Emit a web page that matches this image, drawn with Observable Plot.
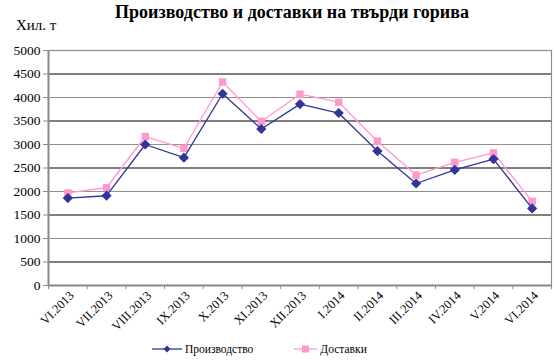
<!DOCTYPE html>
<html><head><meta charset="utf-8">
<script src="https://cdn.jsdelivr.net/npm/d3@7"></script>
<script src="https://cdn.jsdelivr.net/npm/@observablehq/plot@0.6"></script>
<style>
body{margin:0;background:#fff;font-family:"Liberation Serif","Times New Roman",serif;}
#wrap{position:relative;width:555px;height:363px;overflow:hidden;}
#wrap svg text{font-family:"Liberation Serif","Times New Roman",serif;font-size:12.5px;fill:#000;}
#wrap svg [aria-label*="y-axis"] text{font-size:13.5px;}
#title{position:absolute;left:0;width:584px;top:2px;text-align:center;font-weight:bold;font-size:18px;}
#unit{position:absolute;left:16px;top:17px;font-size:15px;}
#legend{position:absolute;top:343px;left:150px;font-size:11.5px;display:flex;gap:0;}
#legend span{display:inline-flex;align-items:center;}
</style></head><body>
<div id="wrap"></div>
<script>
const categories = ["VI.2013","VII.2013","VIII.2013","IX.2013","X.2013","XI.2013","XII.2013","I.2014","II.2014","III.2014","IV.2014","V.2014","VI.2014"];
const production = [1860,1910,3000,2720,4080,3330,3860,3670,2860,2170,2460,2690,1640];
const deliveries = [1970,2080,3170,2920,4330,3490,4070,3900,3070,2350,2620,2820,1790];
const yTicks = [0,500,1000,1500,2000,2500,3000,3500,4000,4500,5000];
const seriesNames = ["Производство","Доставки"];
const colors = ["#333399","#ff99cc"];

const prodData = categories.map((c,i)=>({i, v: production[i]}));
const delData = categories.map((c,i)=>({i, v: deliveries[i]}));
const bounds = d3.range(0, categories.length + 1).map(k => k - 0.5);
const font = "Liberation Serif";

const chart = Plot.plot({
  width: 555, height: 363,
  marginLeft: 48, marginRight: 4, marginTop: 50, marginBottom: 78,
  style: {fontFamily: font, fontSize: "12.5px", color: "#000", background: "transparent"},
  x: {type: "linear", domain: [-0.5, categories.length - 0.5]},
  y: {domain: [0, 5000]},
  marks: [
    Plot.ruleY(yTicks.filter(t => t > 0 && t < 5000), {y: d => d, stroke: d => (d % 1000 === 0 ? "#909090" : "#000"), strokeWidth: 1.2}),
    Plot.frame({stroke: "#8c8c8c", strokeWidth: 1.2}),
    Plot.ruleX([-0.5], {stroke: "#8c8c8c", strokeWidth: 2}),
    Plot.ruleY([0], {stroke: "#8c8c8c", strokeWidth: 2}),
    Plot.axisY({ticks: yTicks, tickFormat: d3.format("d"), tickSize: 5, tickPadding: 3, stroke: "#8c8c8c", label: null}),
    Plot.axisX({ticks: bounds, tickFormat: () => "", tickSize: 4, stroke: "#8c8c8c", label: null}),
    Plot.axisX({ticks: d3.range(categories.length), tickFormat: i => categories[i], tickSize: 0, tickPadding: 8, tickRotate: -45, label: null, dx: 4}),
    Plot.line(delData, {x: "i", y: "v", stroke: colors[1], strokeWidth: 1.3}),
    Plot.dot(delData, {x: "i", y: "v", symbol: "square", fill: colors[1], r: 4.2}),
    Plot.line(prodData, {x: "i", y: "v", stroke: colors[0], strokeWidth: 1.3}),
    Plot.dot(prodData, {x: "i", y: "v", symbol: "diamond2", fill: colors[0], r: 4.6})
  ]
});
const wrap = document.getElementById("wrap");
wrap.appendChild(chart);
chart.style.position = "absolute"; chart.style.left = "0"; chart.style.top = "0";

const title = document.createElement("div"); title.id = "title";
title.textContent = "Производство и доставки на твърди горива"; wrap.appendChild(title);
const unit = document.createElement("div"); unit.id = "unit";
unit.textContent = "Хил. т"; wrap.appendChild(unit);

const legend = document.createElement("div"); legend.id = "legend";
const sym = [
  '<svg width="34" height="12"><line x1="2" x2="32" y1="6" y2="6" stroke="'+colors[0]+'" stroke-width="1.3"/><path d="M17,2.5L20.5,6L17,9.5L13.5,6Z" fill="'+colors[0]+'"/></svg>',
  '<svg width="26" height="12"><line x1="1" x2="24" y1="6" y2="6" stroke="'+colors[1]+'" stroke-width="1.3"/><rect x="9" y="2.5" width="7" height="7" fill="'+colors[1]+'"/></svg>'
];
seriesNames.forEach((n, k) => {
  const s = document.createElement("span");
  s.innerHTML = sym[k] + '<span style="margin-left:1px;margin-right:' + (k === 0 ? 40 : 0) + 'px">' + n + '</span>';
  legend.appendChild(s);
});
wrap.appendChild(legend);
</script>
</body></html>
